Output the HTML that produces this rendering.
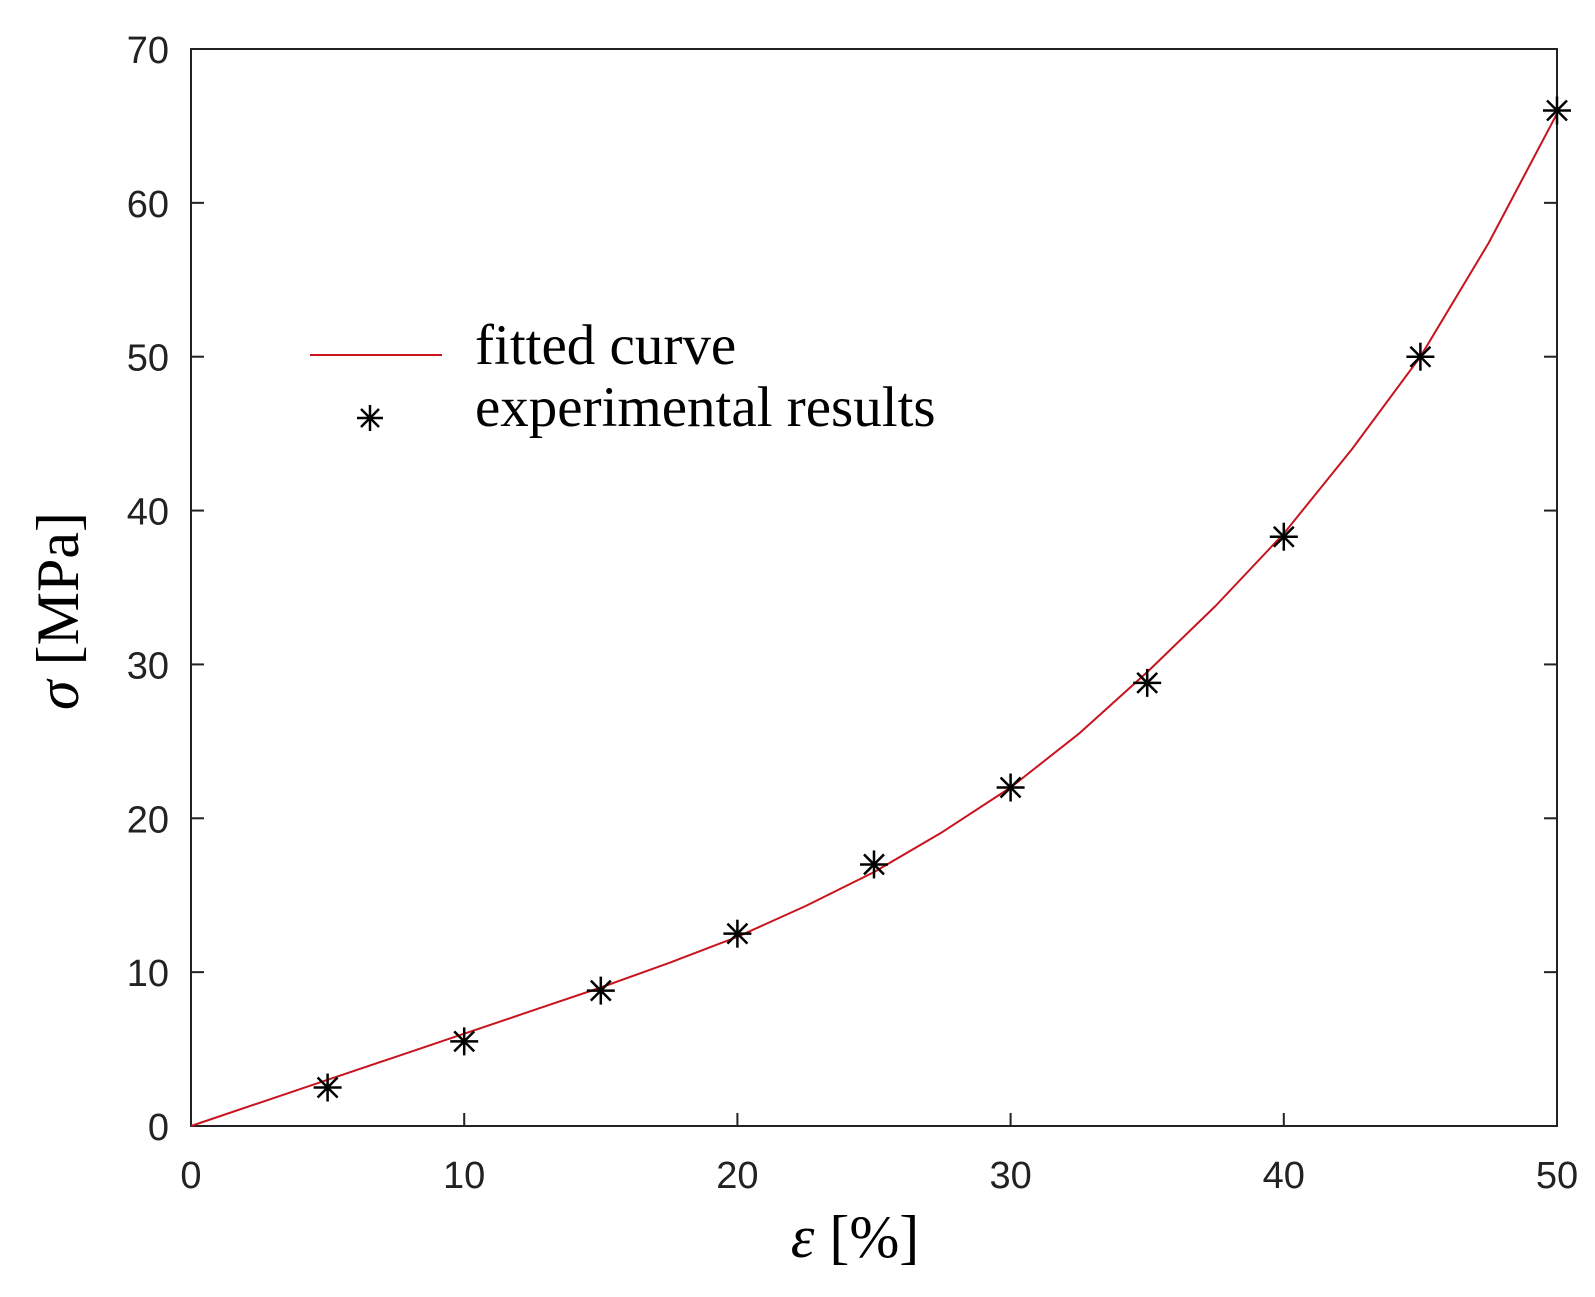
<!DOCTYPE html>
<html><head><meta charset="utf-8"><style>
html,body{margin:0;padding:0;background:#fff;}
svg{display:block;}
</style></head><body>
<svg id="chart" width="1595" height="1297" viewBox="0 0 1595 1297" xmlns="http://www.w3.org/2000/svg">
<g id="axes"></g>
<g id="series"></g>
<g>
  <line x1="310" y1="355" x2="442" y2="355" stroke="#c8141e" stroke-width="2"/>
  <text x="475" y="364" font-family="Liberation Serif, serif" font-size="57">fitted curve</text>
  <g transform="translate(370,418)" stroke="#000" stroke-width="2.5">
    <line x1="-13" y1="0" x2="13" y2="0"/><line x1="0" y1="-13" x2="0" y2="13"/>
    <line x1="-9" y1="-9" x2="9" y2="9"/><line x1="-9" y1="9" x2="9" y2="-9"/>
  </g>
  <text x="475" y="426" font-family="Liberation Serif, serif" font-size="57">experimental results</text>
</g>
<text x="855" y="1257" text-anchor="middle" font-family="Liberation Serif, serif" font-size="60"><tspan font-style="italic">ε</tspan> [%]</text>
<text transform="translate(78,611) rotate(-90)" text-anchor="middle" font-family="Liberation Serif, serif" font-size="60"><tspan font-style="italic">σ</tspan> [MPa]</text>
</svg>
<script>
const xTicks = [0,10,20,30,40,50];
const yTicks = [0,10,20,30,40,50,60,70];
const expStrain = [5,10,15,20,25,30,35,40,45,50];
const expStress = [2.5,5.5,8.8,12.5,17,22,28.8,38.3,50,66];
const fitStrain = [0,2.5,5,7.5,10,12.5,15,17.5,20,22.5,25,27.5,30,32.5,35,37.5,40,42.5,45,47.5,50];
const fitStress = [0,1.5,3.0,4.5,6.0,7.5,9.0,10.6,12.3,14.3,16.5,19.1,22.0,25.5,29.5,33.8,38.5,44.0,50.0,57.4,65.8];

const L=191,R=1557,T=49,B=1126;
const xs=v=>L+(v-0)/(50-0)*(R-L);
const ys=v=>B-(v-0)/(70-0)*(B-T);
const NS='http://www.w3.org/2000/svg';
function mk(tag,attrs,parent){const e=document.createElementNS(NS,tag);for(const k in attrs)e.setAttribute(k,attrs[k]);parent.appendChild(e);return e;}
const ax=document.getElementById('axes');
const frame=mk('rect',{x:L,y:T,width:R-L,height:B-T,fill:'none',stroke:'#222','stroke-width':2},ax);


xTicks.forEach(v=>{
  const x=xs(v);
  const t1=mk('line',{x1:x,y1:B,x2:x,y2:B-13,stroke:'#222','stroke-width':2},ax);
  
  
  const lb=mk('text',{x:x,y:B+62,'text-anchor':'middle','font-family':'Liberation Sans, sans-serif','font-size':38,fill:'#222'},ax);
  lb.textContent=v;
  
  
});
yTicks.forEach(v=>{
  const y=ys(v);
  const t1=mk('line',{x1:L,y1:y,x2:L+13,y2:y,stroke:'#222','stroke-width':2},ax);
  
  
  const t2=mk('line',{x1:R,y1:y,x2:R-13,y2:y,stroke:'#222','stroke-width':2},ax);
  
  
  const lb=mk('text',{x:L-22,y:y+14,'text-anchor':'end','font-family':'Liberation Sans, sans-serif','font-size':38,fill:'#222'},ax);
  lb.textContent=v;
  
  
});
const sr=document.getElementById('series');
const d=fitStrain.map((v,i)=>(i?'L':'M')+xs(v).toFixed(1)+','+ys(fitStress[i]).toFixed(1)).join(' ');
const path=mk('path',{d:d,fill:'none',stroke:'#c8141e','stroke-width':2,'stroke-linejoin':'round'},sr);


expStrain.forEach((v,i)=>{
  const g=mk('g',{transform:`translate(${xs(v)},${ys(expStress[i])})`,stroke:'#000','stroke-width':2.5},sr);
  
  
  mk('line',{x1:-14,y1:0,x2:14,y2:0},g);
  mk('line',{x1:0,y1:-14,x2:0,y2:14},g);
  mk('line',{x1:-10,y1:-10,x2:10,y2:10},g);
  mk('line',{x1:-10,y1:10,x2:10,y2:-10},g);
});
</script>
</body></html>
